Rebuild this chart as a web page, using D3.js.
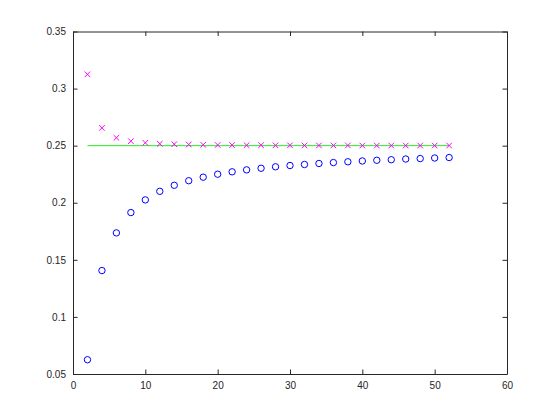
<!DOCTYPE html>
<html>
<head>
<meta charset="utf-8">
<script src="https://cdn.jsdelivr.net/npm/d3@7"></script>
<style>
  body { margin: 0; background: #fff; }
  svg { display: block; }
  .axis text { font-family: Helvetica, "Liberation Sans", Arial, sans-serif; font-size: 10px; fill: #262626; }
  .axis path, .axis line { stroke: #262626; }
</style>
</head>
<body>
<svg width="560" height="420"></svg>
<script>
// data
var xValues = [2, 4, 6, 8, 10, 12, 14, 16, 18, 20, 22, 24, 26, 28, 30, 32, 34, 36, 38, 40, 42, 44, 46, 48, 50, 52];
var circleValues = [0.0625, 0.1406, 0.1736, 0.1914, 0.2025, 0.2100, 0.2153, 0.2193, 0.2224, 0.2250, 0.2271, 0.2288,
    0.2302, 0.2315, 0.2326, 0.2335, 0.2344, 0.2352, 0.2359, 0.2366, 0.2372, 0.2377, 0.2383, 0.2387, 0.2392, 0.2396];
var crossValues = [0.3125, 0.2656, 0.2569, 0.2539, 0.2525, 0.2517, 0.2513, 0.2510, 0.2508, 0.2506, 0.2505, 0.2504,
    0.2504, 0.2503, 0.2503, 0.2502, 0.2502, 0.2502, 0.2502, 0.2501, 0.2501, 0.2501, 0.2501, 0.2501, 0.2501, 0.2501];
var refLine = [[2, 0.25], [52, 0.25]];
var xTicks = [0, 10, 20, 30, 40, 50, 60];
var yTicks = [0.05, 0.1, 0.15, 0.2, 0.25, 0.3, 0.35];

var svg = d3.select('svg');
var svgWidth = +svg.attr('width');
var svgHeight = +svg.attr('height');

// MATLAB default axes position
var padding = {t: 31.5, r: 53, b: 46, l: 73};
var chartWidth = svgWidth - padding.l - padding.r;
var chartHeight = svgHeight - padding.t - padding.b;

var chartG = svg.append('g')
    .attr('transform', 'translate(' + [padding.l, padding.t] + ')');

var xScale = d3.scaleLinear().domain([0, 60]).range([0, chartWidth]);
var yScale = d3.scaleLinear().domain([0.05, 0.35]).range([chartHeight, 0]);

var tickLen = 4.5;
var yFmt = function(d) { return String(+d.toFixed(2)); };

// axes, ticks pointing inward, box on
chartG.append('g').attr('class', 'axis')
    .attr('transform', 'translate(0,' + chartHeight + ')')
    .call(d3.axisBottom(xScale).tickValues(xTicks).tickSize(-tickLen).tickPadding(8).tickSizeOuter(0));
chartG.append('g').attr('class', 'axis')
    .call(d3.axisTop(xScale).tickValues(xTicks).tickSize(-tickLen).tickFormat('').tickSizeOuter(0));
chartG.append('g').attr('class', 'axis')
    .call(d3.axisLeft(yScale).tickValues(yTicks).tickSize(-tickLen).tickPadding(7).tickFormat(yFmt).tickSizeOuter(0));
chartG.append('g').attr('class', 'axis')
    .attr('transform', 'translate(' + chartWidth + ',0)')
    .call(d3.axisRight(yScale).tickValues(yTicks).tickSize(-tickLen).tickFormat('').tickSizeOuter(0));

// green reference line
chartG.append('path')
    .datum(refLine)
    .attr('fill', 'none')
    .attr('stroke', '#22ee22')
    .attr('stroke-width', 1)
    .attr('d', d3.line()
        .x(function(d) { return xScale(d[0]); })
        .y(function(d) { return yScale(d[1]); }));

// blue circles
chartG.selectAll('.circ')
    .data(xValues)
    .enter()
    .append('circle')
    .attr('class', 'circ')
    .attr('cx', function(d) { return xScale(d); })
    .attr('cy', function(d, i) { return yScale(circleValues[i]); })
    .attr('r', 3.2)
    .attr('fill', 'none')
    .attr('stroke', '#0000ff')
    .attr('stroke-width', 1);

// magenta crosses
var crossSym = d3.symbol().type(d3.symbolX).size(22);
chartG.selectAll('.cross')
    .data(xValues)
    .enter()
    .append('path')
    .attr('class', 'cross')
    .attr('transform', function(d, i) {
        return 'translate(' + [xScale(d), yScale(crossValues[i])] + ')';
    })
    .attr('d', crossSym)
    .attr('fill', 'none')
    .attr('stroke', '#ff00ff')
    .attr('stroke-width', 1);
</script>
</body>
</html>
